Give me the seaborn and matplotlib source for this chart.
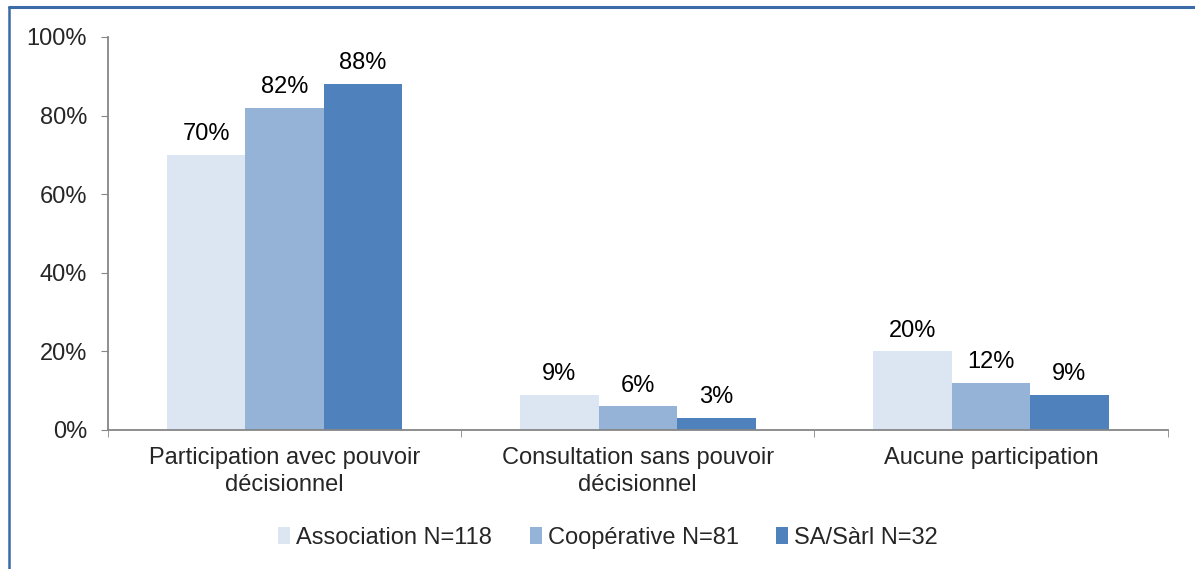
import pandas as pd
import matplotlib
matplotlib.use("Agg")
import matplotlib.pyplot as plt
import seaborn as sns
from matplotlib.lines import Line2D
from matplotlib.ticker import FixedLocator

# données
categories = ["Participation avec pouvoir\ndécisionnel",
              "Consultation sans pouvoir\ndécisionnel",
              "Aucune participation"]
series = ["Association N=118", "Coopérative N=81", "SA/Sàrl N=32"]
association = [70, 9, 20]
cooperative = [82, 6, 12]
sa_sarl = [88, 3, 9]
y_ticks = [0, 20, 40, 60, 80, 100]

couleurs = ["#DCE6F2", "#95B3D7", "#4F81BD"]

tabela = pd.DataFrame({
    "categorie": categories * 3,
    "forme": [s for s in series for _ in categories],
    "valeur": association + cooperative + sa_sarl,
})

sns.set_style("white")
plt.rcParams["font.family"] = ["Liberation Sans", "DejaVu Sans"]
fs = 17

fig = plt.figure(figsize=(11.95, 5.69), dpi=100)
ax = fig.add_axes([0.0904, 0.2443, 0.8866, 0.6907])

sns.barplot(data=tabela, x="categorie", y="valeur", hue="forme",
            palette=couleurs, width=0.667, saturation=1, linewidth=0,
            ax=ax, legend=True)

for c in ax.containers:
    ax.bar_label(c, labels=[f"{v:.0f}%" for v in c.datavalues],
                 padding=7, fontsize=fs, color="#000000")

ax.set_ylim(0, 100)
ax.set_xlim(-0.5, 2.5)
ax.set_yticks(y_ticks)
ax.set_yticklabels([f"{t}%" for t in y_ticks], fontsize=fs)
ax.set_xticks(range(len(categories)))
ax.set_xticklabels(categories, fontsize=fs, linespacing=1.3)
ax.xaxis.set_minor_locator(FixedLocator([-0.5, 0.5, 1.5, 2.5]))
ax.tick_params(axis="x", which="major", length=0, pad=12.5)
ax.tick_params(axis="x", which="minor", length=5, color="#868686", direction="out", bottom=True)
ax.tick_params(axis="y", length=5, color="#868686", direction="out", left=True, pad=10)
ax.set_xlabel("")
ax.set_ylabel("")

for s in ["top", "right"]:
    ax.spines[s].set_visible(False)
for s in ["left", "bottom"]:
    ax.spines[s].set_color("#868686")
    ax.spines[s].set_linewidth(1.3)

ax.legend(loc="center", bbox_to_anchor=(0.472, -0.275), ncol=3, frameon=False,
          fontsize=fs, handlelength=0.5, handleheight=0.75, handletextpad=0.25,
          columnspacing=1.6)

# cadre bleu autour du graphique
fig.add_artist(Line2D([0.0075, 0.0075], [0, 0.988], color="#3A6BA8", lw=1.8))
fig.add_artist(Line2D([0.0075, 1.0], [0.988, 0.988], color="#3A6BA8", lw=2.2))

fig.savefig("out.png", dpi=100)
